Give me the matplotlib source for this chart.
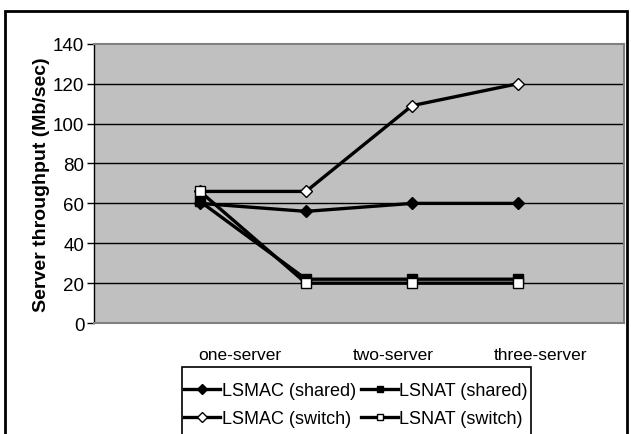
import matplotlib

matplotlib.use("Agg")

import matplotlib.pyplot as plt
from matplotlib.patches import Rectangle

# Throughput per configuration step (Mb/sec)
steps = [1, 2, 3, 4]
lsmac_shared = [60, 56, 60, 60]
lsnat_shared = [61, 22, 22, 22]
lsmac_switch = [66, 66, 109, 120]
lsnat_switch = [66, 20, 20, 20]

category_labels = ["one-server", "two-server", "three-server"]
y_ticks = [0, 20, 40, 60, 80, 100, 120, 140]

plt.rcParams["font.family"] = ["Liberation Sans", "DejaVu Sans"]

W, H = 631, 435
fig = plt.figure(figsize=(W / 100, H / 100), dpi=100)
ax = fig.add_axes([0.149, 0.255, 0.840, 0.642])
ax.set_facecolor("#c0c0c0")

for y in y_ticks[1:-1]:
    ax.axhline(y, color="black", linewidth=1.0, zorder=1)

line_kw = dict(color="black", linewidth=2.4, markersize=6.5, markeredgewidth=1.0, zorder=3)
h1, = ax.plot(steps, lsmac_shared, marker="D", markerfacecolor="black",
              markeredgecolor="black", label="LSMAC (shared)", **line_kw)
h2, = ax.plot(steps, lsnat_shared, marker="s", markerfacecolor="black",
              markeredgecolor="black", label="LSNAT (shared)", **line_kw)
h3, = ax.plot(steps, lsmac_switch, marker="D", markerfacecolor="white",
              markeredgecolor="black", label="LSMAC (switch)", **line_kw)
h4, = ax.plot(steps, lsnat_switch, marker="s", markerfacecolor="white",
              markeredgecolor="black", label="LSNAT (switch)", **line_kw)

ax.set_xlim(0, 5)
ax.set_ylim(0, 140)
ax.set_yticks(y_ticks)
ax.tick_params(axis="y", direction="out", length=5, width=1, labelsize=13.5, pad=2)
ax.set_xticks([1.38, 2.82, 4.21])
ax.set_xticklabels(category_labels)
ax.tick_params(axis="x", length=0, labelsize=12.5, pad=17)

for side in ("top", "right", "bottom"):
    ax.spines[side].set_color("#808080")
    ax.spines[side].set_linewidth(1.5)
ax.spines["left"].set_color("black")
ax.spines["left"].set_linewidth(1.0)

ax.set_ylabel("Server throughput (Mb/sec)", fontsize=14, fontweight="bold", labelpad=2)

# legend entries without their own frame; the box is drawn separately below
leg = fig.legend(handles=[h1, h3, h2, h4], ncol=2, loc="upper left",
                 bbox_to_anchor=(184 / W, 1 - 383 / H), fontsize=13,
                 frameon=False, handlelength=2.0, handletextpad=0.1,
                 columnspacing=0.3, labelspacing=0.6, borderpad=0.0,
                 borderaxespad=0, markerscale=0.75)

fig.canvas.draw()
bb = leg.get_window_extent().transformed(fig.transFigure.inverted())
box_top = 1 - 368 / H
fig.add_artist(Rectangle((182 / W, -0.1), bb.x1 + 3 / W - 182 / W, box_top + 0.1,
                         transform=fig.transFigure, fill=False,
                         edgecolor="black", linewidth=1.2))

# outer chart border, open at the bottom
fig.add_artist(Rectangle((5 / W, -0.1), 622 / W, 1.1 - 12 / H,
                         transform=fig.transFigure, fill=False,
                         edgecolor="black", linewidth=2))

fig.savefig("out.png", dpi=100)
